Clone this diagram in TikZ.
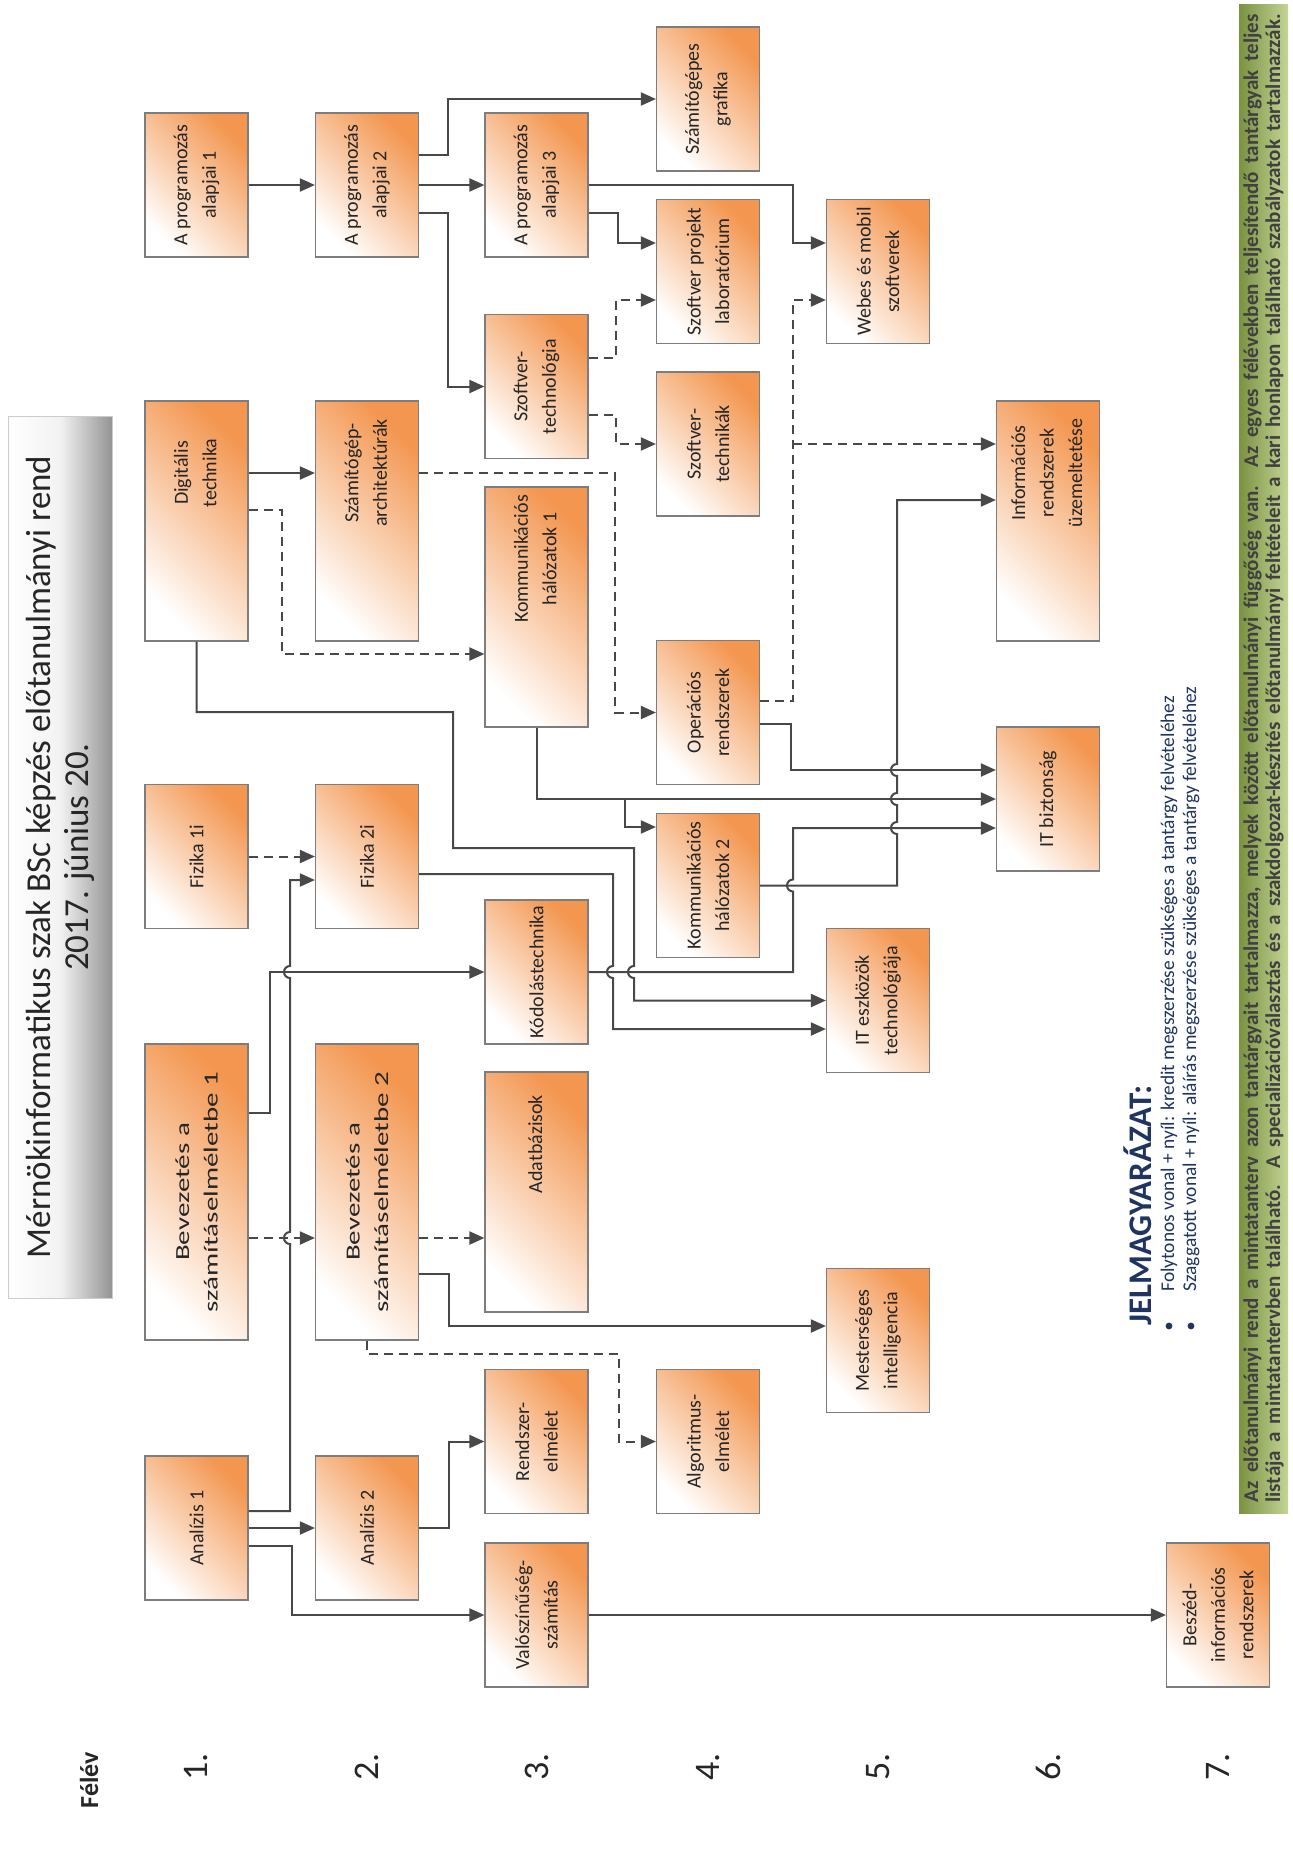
\documentclass[tikz,border=0pt]{standalone}
\usepackage{fontspec}
\setmainfont{Carlito}
\usetikzlibrary{arrows.meta}
\definecolor{boxorange}{RGB}{243,150,80}
\definecolor{boxline}{RGB}{125,125,125}
\definecolor{wire}{RGB}{72,72,72}
\definecolor{navy}{RGB}{31,52,96}
\definecolor{bardark}{RGB}{122,146,66}
\definecolor{barlight}{RGB}{196,212,148}
\newcommand{\shiftedtext}[1]{\hspace*{48pt}\begin{tabular}{@{}c@{}}#1\end{tabular}}
\tikzset{
	subj/.style={rotate=90,draw=boxline,line width=0.6pt,top color=white,middle color=boxorange!50!white,bottom color=boxorange,shading angle=135,
		minimum width=72pt,minimum height=51.5pt,inner sep=1pt,align=center,text=black!85,
		font=\fontsize{10}{14.25}\selectfont},
	tall/.style={minimum width=120pt},
	taller/.style={minimum width=148pt,font=\fontsize{10}{14.25}\selectfont\addfontfeature{FakeStretch=1.45}},
	dep/.style={draw=wire,line width=1pt,-{Triangle[length=7.5pt,width=6.5pt]}},
	sig/.style={dep,dash pattern=on 4.5pt off 3pt},
	sem/.style={rotate=90,font=\fontsize{18}{20}\selectfont,text=black!85},
}
\begin{document}
\begin{tikzpicture}[x=0.5pt,y=-0.5pt]
	\path[use as bounding box,fill=white] (0,0) rectangle (1293,1853);
	\node[rotate=90,draw=black!20,left color=white,right color=black!42,middle color=black!5,minimum width=441pt,minimum height=52pt,align=center,text=black!85,font=\fontsize{17.5}{19}\selectfont] (title) at (60,857) {Mérnökinformatikus szak BSc képzés előtanulmányi rend\\2017. június 20.};

	\node[subj] (prog1) at (196.5,185) {A programozás\\alapjai 1};
	\node[subj] (prog2) at (367,185) {A programozás\\alapjai 2};
	\node[subj] (prog3) at (536.5,185) {A programozás\\alapjai 3};
	\node[subj] (grafika) at (708,99) {Számítógépes\\grafika};
	\node[subj] (szlab) at (708,271.5) {Szoftver projekt\\laboratórium};
	\node[subj] (webes) at (878,271.5) {Webes és mobil\\szoftverek};
	\node[subj] (szt) at (536.5,386.5) {Szoftver-\\technológia};
	\node[subj] (sztk) at (708,444) {Szoftver-\\technikák};
	\node[subj,tall] (digit) at (196.5,521) {\shiftedtext{Digitális\\technika}};
	\node[subj,tall] (arch) at (367,521) {\shiftedtext{Számítógép-\\architektúrák}};
	\node[subj,tall] (kom1) at (536.5,607) {\shiftedtext{Kommunikációs\\hálózatok 1}};
	\node[subj,tall] (irsz) at (1048,521) {\shiftedtext{Információs\\rendszerek\\üzemeltetése}};
	\node[subj] (opr) at (708,712.5) {Operációs\\rendszerek};
	\node[subj] (kom2) at (708,885.5) {Kommunikációs\\hálózatok 2};
	\node[subj] (itb) at (1048,799) {IT biztonság};
	\node[subj] (fiz1) at (196.5,856.5) {Fizika 1i};
	\node[subj] (fiz2) at (367,856.5) {Fizika 2i};
	\node[subj] (kod) at (536.5,972) {Kódolástechnika};
	\node[subj] (iteszk) at (878,1000.5) {IT eszközök\\technológiája};
	\node[subj,taller] (bev1) at (196.5,1192) {Bevezetés a\\számításelméletbe 1};
	\node[subj,taller] (bev2) at (367,1192) {Bevezetés a\\számításelméletbe 2};
	\node[subj,tall] (adatb) at (536.5,1192) {\shiftedtext{Adatbázisok}};
	\node[subj] (mi) at (878,1340.5) {Mesterséges\\intelligencia};
	\node[subj] (rendsz) at (536.5,1441.5) {Rendszer-\\elmélet};
	\node[subj] (algo) at (708,1441.5) {Algoritmus-\\elmélet};
	\node[subj] (an1) at (196.5,1528) {Analízis 1};
	\node[subj] (an2) at (367,1528) {Analízis 2};
	\node[subj] (val) at (536.5,1615) {Valószínűség-\\számítás};
	\node[subj] (besz) at (1218,1615) {Beszéd-\\információs\\rendszerek};

	\draw[dep] (prog1.south) -- (prog2.north);
	\draw[dep] (prog2.south |- 0,155) -| (448,99) -- (grafika.north);
	\draw[dep] (prog2.south) -- (prog3.north);
	\draw[dep] (prog2.south |- 0,213) -| (448,386.5) -- (szt.north);
	\draw[dep] (prog3.south |- 0,213) -| (618,243) -- (szlab.north |- 0,243);
	\draw[dep] (prog3.south) -| (793,243) -- (webes.north |- 0,243);
	\draw[sig] (szt.south |- 0,358) -| (616,300) -- (szlab.north |- 0,300);
	\draw[sig] (szt.south |- 0,415) -| (616,444) -- (sztk.north);
	\draw[dep] (digit.south |- 0,473) -- (arch.north |- 0,473);
	\draw[sig] (digit.south |- 0,510) -| (282,654) -- (kom1.north |- 0,654);
	\draw[sig] (arch.south |- 0,473) -| (615,712.5) -- (opr.north);
	\draw[dep] (digit.west) |- (453,712) |- (634,848) -- (634,966) arc[start angle=90,end angle=270,radius=3pt] |- (iteszk.north);
	\draw[sig] (fiz1.south) -- (fiz2.north);
	\draw[dep] (an1.south |- 0,1511) -| (290,1244) arc[start angle=270,end angle=90,radius=3pt] -- (290,978) arc[start angle=270,end angle=90,radius=3pt] |- (fiz2.north |- 0,880);
	\draw[dep] (fiz2.south |- 0,874) -| (613,966) arc[start angle=90,end angle=270,radius=3pt] |- (iteszk.north |- 0,1029);
	\draw[dep] (bev1.south |- 0,1113) -| (270,972) -- (kod.north);
	\draw[sig] (bev1.south |- 0,1238) -- (bev2.north |- 0,1238);
	\draw[sig] (bev2.south |- 0,1238) -- (adatb.north |- 0,1238);
	\draw[dep] (bev2.south |- 0,1274) -| (449,1326) -- (mi.north |- 0,1326);
	\draw[sig] (bev2.west) |- (619,1354) |- (algo.north);
	\draw[dep] (an1.south) -- (an2.north);
	\draw[dep] (an1.south |- 0,1546) -| (292,1615) -- (val.north);
	\draw[dep] (an2.south) -| (449,1441.5) -- (rendsz.north);
	\draw[dep] (val.south) -- (besz.north);
	\draw[dep] (kom1.west) |- (625,799) |- (kom2.north |- 0,827);
	\draw[dep] (kom1.west) |- (itb.north |- 0,799);
	\draw[dep] (opr.south |- 0,724) -| (791,770) -- (itb.north |- 0,770);
	\draw[dep] (kod.south) -| (793,891.5) arc[start angle=270,end angle=90,radius=3pt] |- (itb.north |- 0,828);
	\draw[dep] (kom2.south) -| (897,834) arc[start angle=270,end angle=90,radius=3pt] -- (897,805) arc[start angle=270,end angle=90,radius=3pt] -- (897,776) arc[start angle=270,end angle=90,radius=3pt] |- (irsz.north |- 0,500);
	\draw[sig] (opr.south |- 0,701) -| (793,300) -- (webes.north |- 0,300);
	\coordinate (oprsplit) at (793,444);
	\draw[sig] (oprsplit) -- (irsz.north |- oprsplit);

	\node[rotate=90,font=\bfseries\fontsize{13}{15}\selectfont,text=black!85] (felev) at (89,1780) {Félév};
	\node[sem] (s1) at (196.5,1767) {1.};
	\node[sem] (s2) at (367,1767) {2.};
	\node[sem] (s3) at (536.5,1767) {3.};
	\node[sem] (s4) at (708,1767) {4.};
	\node[sem] (s5) at (878,1767) {5.};
	\node[sem] (s6) at (1048,1767) {6.};
	\node[sem] (s7) at (1218,1767) {7.};

	\node[rotate=90,anchor=west,inner sep=0,font=\bfseries\fontsize{16.5}{18}\selectfont,text=navy] (jel) at (1138,1326) {JELMAGYARÁZAT:};
	\fill[navy] (1169,1326) circle[radius=1.7pt];
	\fill[navy] (1191,1326) circle[radius=1.7pt];
	\node[rotate=90,anchor=west,inner sep=0,font=\fontsize{9.7}{11}\selectfont,text=navy] (leg1) at (1169,1292) {Folytonos vonal + nyíl: kredit megszerzése szükséges a tantárgy felvételéhez};
	\node[rotate=90,anchor=west,inner sep=0,font=\fontsize{9.7}{11}\selectfont,text=navy] (leg2) at (1191,1292) {Szaggatott vonal + nyíl: aláírás megszerzése szükséges a tantárgy felvételéhez};

	\node[rotate=90,minimum width=754.5pt,minimum height=24.5pt,inner sep=0,left color=bardark,right color=barlight,align=center,text=black!75,font=\bfseries\fontsize{10.5}{11}\selectfont] (note) at (1263.5,758.5) {\makebox[744pt][s]{Az előtanulmányi rend a mintatanterv azon tantárgyait tartalmazza, melyek között előtanulmányi függőség van. Az egyes félévekben teljesítendő tantárgyak teljes}\\\makebox[744pt][s]{listája a mintatantervben található. A specializációválasztás és a szakdolgozat-készítés előtanulmányi feltételeit a kari honlapon található szabályzatok tartalmazzák.}};
\end{tikzpicture}
\end{document}
